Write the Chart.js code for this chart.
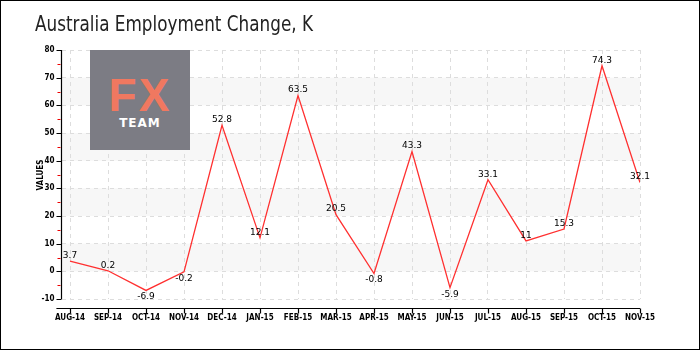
<!DOCTYPE html>
<html>
<head>
<meta charset="utf-8">
<script src="https://cdn.jsdelivr.net/npm/chart.js@4.4.1/dist/chart.umd.min.js"></script>
<style>
  html, body { margin: 0; padding: 0; background: #fff; }
  #wrap { position: relative; width: 700px; height: 350px; }
  canvas { position: absolute; left: 0; top: 0; }
  #logo { position: absolute; left: 90px; top: 50px; width: 100px; height: 100px; background: #7c7c84; text-align: center; font-family: "DejaVu Sans", sans-serif; }
  #logo .fx { position: absolute; left: 0; right: 0; top: 22px; color: #f07860; font-size: 46px; line-height: 46px; letter-spacing: 2px; font-weight: bold; font-family: "Liberation Sans", sans-serif; }
  #logo .team { position: absolute; left: 0; right: 0; top: 67px; color: #fff; font-size: 12px; line-height: 12px; font-weight: bold; letter-spacing: 1px; }
</style>
</head>
<body>
<div id="wrap">
  <canvas id="c" width="700" height="350"></canvas>
  <div id="logo"><div class="fx">FX</div><div class="team">TEAM</div></div>
</div>
<script>
const title = "Australia Employment Change, K";
const yAxisTitle = "VALUES";
const categories = ["AUG-14","SEP-14","OCT-14","NOV-14","DEC-14","JAN-15","FEB-15","MAR-15","APR-15","MAY-15","JUN-15","JUL-15","AUG-15","SEP-15","OCT-15","NOV-15"];
const values = [3.7, 0.2, -6.9, -0.2, 52.8, 12.1, 63.5, 20.5, -0.8, 43.3, -5.9, 33.1, 11, 15.3, 74.3, 32.1];
const valueLabels = ["3.7","0.2","-6.9","-0.2","52.8","12.1","63.5","20.5","-0.8","43.3","-5.9","33.1","11","15.3","74.3","32.1"];
const yMin = -10, yMax = 80, yStep = 10;

const tickFamily = "'DejaVu Sans Condensed', 'DejaVu Sans', sans-serif";

const decor = {
  id: 'decor',
  beforeDraw(chart) {
    const {ctx, chartArea: a, scales: {y}} = chart;
    ctx.save();
    ctx.fillStyle = '#f7f7f7';
    for (let v = 0; v < yMax; v += 20) {
      const t = y.getPixelForValue(v + 10), b = y.getPixelForValue(v);
      ctx.fillRect(a.left, t, a.right - a.left, b - t);
    }
    ctx.restore();
  },
  afterDraw(chart) {
    const {ctx, chartArea: a, scales: {x, y}} = chart;
    ctx.save();
    ctx.strokeStyle = '#000'; ctx.lineWidth = 1;
    ctx.strokeRect(0.5, 0.5, 699, 349);
    // title, fit to reference width
    ctx.fillStyle = '#222';
    ctx.font = "22px 'DejaVu Sans', sans-serif";
    ctx.textBaseline = 'alphabetic'; ctx.textAlign = 'left';
    const w = ctx.measureText(title).width;
    ctx.save();
    ctx.translate(35, 31);
    ctx.scale(278 / w, 1);
    ctx.fillText(title, 0, 0);
    ctx.restore();
    // y axis
    const ax = Math.round(a.left) - 0.5;
    ctx.beginPath();
    ctx.moveTo(ax, a.top); ctx.lineTo(ax, a.bottom);
    for (let v = yMin; v <= yMax; v += yStep) {
      const py = Math.round(y.getPixelForValue(v)) + 0.5;
      ctx.moveTo(ax - 5, py); ctx.lineTo(ax, py);
    }
    ctx.strokeStyle = '#000'; ctx.lineWidth = 1.2; ctx.stroke();
    ctx.beginPath();
    for (let v = yMin + 5; v < yMax; v += yStep) {
      const py = Math.round(y.getPixelForValue(v)) + 0.5;
      ctx.moveTo(ax - 4, py); ctx.lineTo(ax - 1, py);
    }
    ctx.strokeStyle = '#e00'; ctx.lineWidth = 1; ctx.stroke();
    // x axis
    const ay = Math.round(a.bottom) + 9.5;
    ctx.beginPath();
    ctx.moveTo(a.left - 6, ay); ctx.lineTo(a.right, ay);
    for (let i = 0; i < categories.length; i++) {
      const px = Math.round(x.getPixelForValue(i)) + 0.5;
      ctx.moveTo(px, ay); ctx.lineTo(px, ay + 5);
    }
    ctx.strokeStyle = '#000'; ctx.lineWidth = 1.2; ctx.stroke();
    // y axis title
    ctx.translate(41, 175);
    ctx.rotate(-Math.PI / 2);
    ctx.font = "bold 8px " + tickFamily; ctx.textAlign = 'center'; ctx.textBaseline = 'middle';
    ctx.fillStyle = '#000';
    ctx.fillText(yAxisTitle, 0, 0);
    ctx.restore();
    // data labels
    ctx.save();
    ctx.font = "9px 'DejaVu Sans', sans-serif";
    ctx.fillStyle = '#000'; ctx.textAlign = 'center';
    const meta = chart.getDatasetMeta(0);
    meta.data.forEach((pt, i) => {
      if (values[i] < 0) { ctx.textBaseline = 'top'; ctx.fillText(valueLabels[i], pt.x, pt.y + 2); }
      else { ctx.textBaseline = 'bottom'; ctx.fillText(valueLabels[i], pt.x, pt.y - 1); }
    });
    ctx.restore();
  }
};

new Chart(document.getElementById('c'), {
  type: 'line',
  data: {
    datasets: [{
      data: values.map((v, i) => ({x: i, y: v})),
      borderColor: '#ff3030',
      borderWidth: 1.3,
      pointRadius: 0,
      tension: 0,
      fill: false
    }]
  },
  options: {
    responsive: false,
    animation: false,
    devicePixelRatio: 1,
    layout: { padding: { left: 20, right: 60, top: 50, bottom: 10 } },
    plugins: { legend: { display: false }, tooltip: { enabled: false }, title: { display: false } },
    scales: {
      x: {
        type: 'linear', min: -0.2, max: categories.length - 1,
        afterFit(s) { s.height = 41; },
        border: { display: false, dash: [4, 4] },
        grid: { color: '#dddddd', drawTicks: false, tickLength: 0 },
        ticks: {
          stepSize: 1, includeBounds: false, autoSkip: false, maxRotation: 0, padding: 14,
          color: '#000', font: { family: tickFamily, size: 8, weight: 'bold' },
          callback: (v) => Number.isInteger(v) ? categories[v] : ''
        }
      },
      y: {
        min: yMin, max: yMax,
        afterFit(s) { s.width = 42.4; },
        border: { display: false, dash: [4, 4] },
        grid: { color: '#dddddd', drawTicks: false, tickLength: 0 },
        ticks: {
          stepSize: yStep, padding: 8, color: '#000',
          font: { family: tickFamily, size: 8, weight: 'bold' }
        }
      }
    }
  },
  plugins: [decor]
});
</script>
</body>
</html>
